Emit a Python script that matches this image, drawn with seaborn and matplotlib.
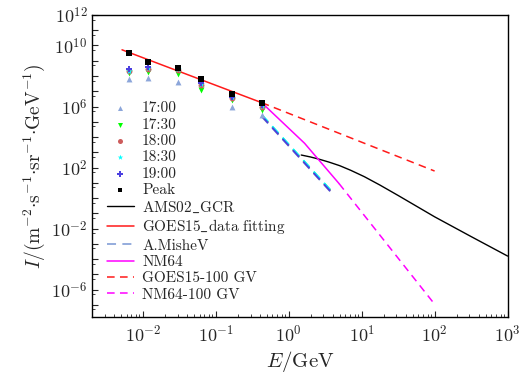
import numpy as np
import matplotlib
matplotlib.use("Agg")
import matplotlib.pyplot as plt
import matplotlib.ticker as mticker
import seaborn as sns

# ---------------- data ----------------
E_ch = [0.0065, 0.0118, 0.030, 0.0625, 0.166, 0.427]
I_1700 = [6.3e7, 7.1e7, 4.3e7, 5.5e7, 1.0e6, 2.8e5]
I_1730 = [1.5e8, 1.9e8, 1.3e8, 1.2e7, 2.7e6, 6.3e5]
I_1800 = [2.0e8, 2.8e8, 2.5e8, 2.6e7, 3.5e6, 9.8e5]
I_1830 = [2.2e8, 3.2e8, 2.8e8, 2.8e7, 4.0e6, 1.1e6]
I_1900 = [2.8e8, 4.1e8, 3.2e8, 3.3e7, 4.5e6, 1.26e6]
I_peak = [3.4e9, 7.9e8, 3.5e8, 6.0e7, 6.3e6, 1.8e6]

mishev_E = [0.43, 4.1]
mishev_1700 = [2.1e5, 1.6]
mishev_1730 = [2.6e5, 2.0]
mishev_1800 = [2.4e5, 1.8]
mishev_1830 = [2.8e5, 2.1]
mishev_1900 = [2.3e5, 1.7]

ams_E = [1.486, 2.0, 2.64, 3.55, 5.01, 7.08, 10.9, 17.8, 31.6, 100.0, 316.0, 1000.0]
ams_I = [661.0, 490.0, 347.0, 229.0, 132.0, 66.0, 25.1, 7.1, 1.48, 0.059, 3.0e-3, 1.58e-4]

fit_E = [0.0052, 0.427]
fit_I = [5.2e9, 1.78e6]
goes100_E = [0.427, 100.0]
goes100_I = [1.78e6, 59.0]

nm64_E = [0.427, 1.65, 4.9]
nm64_I = [1.78e6, 3.9e3, 8.9]
nm64_100_E = [4.9, 100.0]
nm64_100_I = [8.9, 1.1e-7]

time_labels = ["17:00", "17:30", "18:00", "18:30", "19:00"]
time_colors = ["#8ca6da", "#00ff00", "#cd5c5c", "#00ffff", "#4b3fe0"]
time_markers = ["^", "v", "o", "*", "P"]
time_sizes = [18, 18, 18, 24, 20]

# ---------------- style ----------------
sns.set_style("white")
plt.rcParams.update({
    "font.family": "serif",
    "font.serif": ["cmr10"],
    "mathtext.fontset": "cm",
    "axes.formatter.use_mathtext": True,
    "axes.unicode_minus": False,
    "axes.edgecolor": "black",
    "axes.linewidth": 1.0,
})

fig = plt.figure(figsize=(5.19, 3.74), dpi=100)
ax = fig.add_axes([0.178, 0.1524, 0.800, 0.8076])
ax.set_xscale("log")
ax.set_yscale("log")

dash = (0, (5, 3.5))

mishev_sets = [mishev_1700, mishev_1730, mishev_1800, mishev_1830, mishev_1900]
for k, (vals, c) in enumerate(zip(mishev_sets, time_colors)):
    sns.lineplot(x=mishev_E, y=vals, ax=ax, color=c, linestyle=dash, lw=1.3,
                 sort=False, estimator=None,
                 label="A.MisheV" if k == 0 else None, zorder=2)

sns.lineplot(x=ams_E, y=ams_I, ax=ax, color="black", lw=1.0, sort=False,
             estimator=None, label="AMS02$\\_$GCR", zorder=2)
sns.lineplot(x=fit_E, y=fit_I, ax=ax, color="#ff1a1a", lw=1.1, sort=False,
             estimator=None, label="GOES15$\\_$data fitting", zorder=2)
sns.lineplot(x=nm64_E, y=nm64_I, ax=ax, color="#ff00ff", lw=1.1, sort=False,
             estimator=None, label="NM64", zorder=2)
sns.lineplot(x=goes100_E, y=goes100_I, ax=ax, color="#ff1a1a", lw=1.1,
             linestyle=dash, sort=False, estimator=None,
             label="GOES15-100 GV", zorder=2)
sns.lineplot(x=nm64_100_E, y=nm64_100_I, ax=ax, color="#ff00ff", lw=1.1,
             linestyle=dash, sort=False, estimator=None,
             label="NM64-100 GV", zorder=2)

sns.scatterplot(x=E_ch, y=I_peak, ax=ax, marker="s", color="black", s=17,
                linewidth=0, label="Peak", zorder=4)
time_sets = [I_1700, I_1730, I_1800, I_1830, I_1900]
for vals, lab, c, m, s in zip(time_sets, time_labels, time_colors, time_markers, time_sizes):
    sns.scatterplot(x=E_ch, y=vals, ax=ax, marker=m, color=c, s=s,
                    linewidth=0, label=lab, zorder=3)

ax.set_xlim(2.04e-3, 1e3)
ax.set_ylim(1.6e-8, 1e12)

ax.xaxis.set_major_locator(mticker.LogLocator(base=10, numticks=20))
ax.xaxis.set_minor_locator(mticker.LogLocator(base=10, subs=np.arange(2, 10), numticks=40))
ax.xaxis.set_minor_formatter(mticker.NullFormatter())
ydec = list(range(-7, 13))
ax.yaxis.set_major_locator(mticker.FixedLocator([10.0 ** d for d in ydec]))
shown = {12, 10, 6, 2, -2, -6}
ax.yaxis.set_major_formatter(mticker.FuncFormatter(
    lambda v, p: (r"$10^{%d}$" % int(round(np.log10(v)))) if int(round(np.log10(v))) in shown else ""))
ax.yaxis.set_minor_locator(mticker.FixedLocator([5 * 10.0 ** (d - 1) for d in range(-7, 13)]))
ax.yaxis.set_minor_formatter(mticker.NullFormatter())
ax.tick_params(which="major", direction="in", length=4, width=0.8, labelsize=13,
               top=False, right=False, left=True, bottom=True)
ax.tick_params(which="minor", direction="in", length=2, width=0.6,
               top=False, right=False, left=True, bottom=True)
ax.tick_params(axis="x", which="major", pad=5)

ax.set_xlabel(r"$E/\mathrm{GeV}$", fontsize=15, labelpad=3)
ax.set_ylabel(r"$I/(\mathrm{m^{-2}{\cdot}s^{-1}{\cdot}sr^{-1}{\cdot}GeV^{-1}})$",
              fontsize=14, labelpad=3)

order = time_labels + ["Peak", "AMS02$\\_$GCR", "GOES15$\\_$data fitting",
                       "A.MisheV", "NM64", "GOES15-100 GV", "NM64-100 GV"]
h, l = ax.get_legend_handles_labels()
hm = dict(zip(l, h))
ax.legend([hm[k] for k in order], order, loc="lower left",
          bbox_to_anchor=(0.027, 0.041), frameon=False, fontsize=11,
          labelspacing=0.17, handlelength=1.8, handletextpad=0.52,
          borderpad=0.2, borderaxespad=0, scatterpoints=1, markerscale=0.85)

for sp in ax.spines.values():
    sp.set_visible(True)
    sp.set_color("black")

fig.savefig("out.png", dpi=100)
